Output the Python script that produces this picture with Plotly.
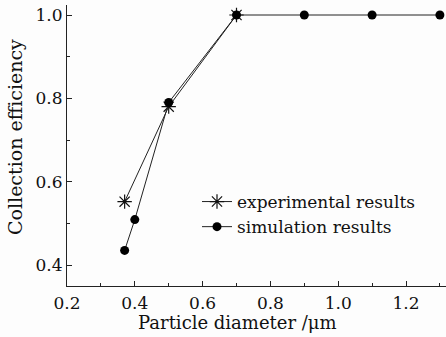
import plotly.graph_objects as go

exp_x = [0.37, 0.5, 0.7]
exp_y = [0.552, 0.78, 1.0]
sim_x = [0.37, 0.4, 0.5, 0.7, 0.9, 1.1, 1.3]
sim_y = [0.435, 0.509, 0.79, 1.0, 1.0, 1.0, 1.0]
x_ticks = [0.2, 0.4, 0.6, 0.8, 1.0, 1.2]
y_ticks = [0.4, 0.6, 0.8, 1.0]

FONT = "DejaVu Serif"
W, H = 446, 337
L, R, T, B = 67, 0, 5, 51

fig = go.Figure()
fig.add_trace(go.Scatter(
    x=exp_x, y=exp_y, mode="lines+markers", name="experimental results",
    line=dict(color="#222", width=1),
    marker=dict(symbol="asterisk-open", size=12, color="#111", line=dict(width=1.2, color="#111")),
))
fig.add_trace(go.Scatter(
    x=sim_x, y=sim_y, mode="lines+markers", name="simulation results",
    line=dict(color="#222", width=1),
    marker=dict(symbol="circle", size=9, color="#000"),
))

axis_common = dict(
    showgrid=False, zeroline=False, showline=True, linecolor="#222", linewidth=1,
    ticks="inside", ticklen=5, tickcolor="#222", tickwidth=1,
    tickfont=dict(family=FONT, size=17, color="#111"),
    minor=dict(ticks="inside", ticklen=3, tickcolor="#222", tickwidth=1),
)
fig.update_xaxes(range=[0.2, 1.318], tickvals=x_ticks, ticktext=[f"{v:.1f}" for v in x_ticks],
                 minor_dtick=0.1, ticklabelstandoff=2, **axis_common)
fig.update_yaxes(range=[0.3496, 1.024], tickvals=y_ticks, ticktext=[f"{v:.1f}" for v in y_ticks],
                 minor_dtick=0.1, **axis_common)

pw = W - L - R
ph = H - T - B
fig.add_annotation(text="Particle diameter /μm", xref="paper", yref="paper",
                   x=(237 - L) / pw, y=-(322 - (H - B)) / ph, showarrow=False,
                   xanchor="center", yanchor="middle",
                   font=dict(family=FONT, size=18, color="#111"))
fig.add_annotation(text="Collection efficiency", xref="paper", yref="paper",
                   x=(15 - L) / pw, y=1 - (137 - T) / ph, showarrow=False, textangle=-90,
                   xanchor="center", yanchor="middle",
                   font=dict(family=FONT, size=19, color="#111"))

fig.update_layout(
    width=W, height=H, margin=dict(l=L, r=R, t=T, b=B),
    paper_bgcolor="#fdfdfd", plot_bgcolor="#fdfdfd",
    showlegend=True,
    legend=dict(x=(197 - L) / pw, y=1 - (184 - T) / ph, xanchor="left", yanchor="top",
                bgcolor="rgba(0,0,0,0)", font=dict(family=FONT, size=17, color="#111"),
                tracegroupgap=0, itemwidth=30),
)

fig.write_html("out.html")
